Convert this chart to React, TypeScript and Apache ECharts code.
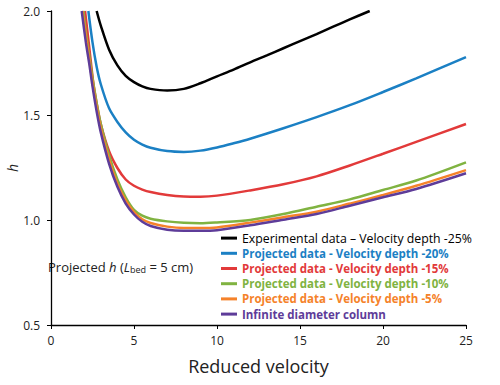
import React, { useEffect, useRef } from "react";
import * as echarts from "echarts";

const xTicks = [0, 5, 10, 15, 20, 25];
const yTicks = [0.5, 1.0, 1.5, 2.0];

const seriesNames = [
  "Experimental data – Velocity depth -25%",
  "Projected data - Velocity depth -20%",
  "Projected data - Velocity depth -15%",
  "Projected data - Velocity depth -10%",
  "Projected data - Velocity depth -5%",
  "Infinite diameter column",
];
const seriesColors = ["#000000", "#1b80c4", "#e23a3a", "#80b341", "#f5822a", "#5e3c99"];

const blackV = [2.75, 3.0, 3.5, 4.0, 4.5, 5.0, 5.5, 6.0, 7.0, 8.0, 9.0, 10, 11, 12, 13, 14, 15, 16, 17, 18, 19.2];
const blackH = [2.0, 1.93, 1.815, 1.74, 1.69, 1.66, 1.64, 1.628, 1.62, 1.628, 1.655, 1.688, 1.72, 1.755, 1.788, 1.822, 1.856, 1.89, 1.925, 1.96, 2.0];

const blueV = [2.25, 2.5, 2.75, 3.0, 3.5, 4.0, 4.5, 5.0, 5.5, 6.0, 7.0, 8.0, 9, 10, 11, 12, 14, 16, 18, 20, 22, 25];
const blueH = [2.0, 1.85, 1.734, 1.65, 1.535, 1.47, 1.42, 1.385, 1.362, 1.347, 1.331, 1.327, 1.333, 1.348, 1.368, 1.39, 1.44, 1.493, 1.55, 1.613, 1.678, 1.78];

const redV = [2.05, 2.3, 2.55, 2.75, 3.0, 3.5, 4.0, 4.5, 5.0, 5.5, 6.0, 7.0, 8.0, 9.0, 10, 12, 14, 16, 18, 20, 22, 25];
const redH = [2.0, 1.83, 1.655, 1.56, 1.46, 1.33, 1.25, 1.195, 1.165, 1.147, 1.135, 1.121, 1.114, 1.113, 1.118, 1.143, 1.172, 1.21, 1.262, 1.318, 1.375, 1.46];

const greenV = [1.95, 2.1, 2.3, 2.5, 2.75, 3.0, 3.5, 4.0, 4.5, 5.0, 5.5, 6.0, 7.0, 8.0, 9.0, 10, 12, 14, 16, 18, 20, 22, 25];
const greenH = [2.0, 1.9, 1.79, 1.68, 1.56, 1.46, 1.31, 1.195, 1.11, 1.05, 1.022, 1.008, 0.995, 0.988, 0.986, 0.99, 1.002, 1.03, 1.065, 1.1, 1.145, 1.19, 1.277];

const orangeV = [1.9, 2.1, 2.3, 2.5, 2.75, 3.0, 3.5, 4.0, 4.5, 5.0, 5.5, 6.0, 7.0, 8.0, 9.0, 10, 12, 14, 16, 18, 20, 22, 25];
const orangeH = [2.0, 1.88, 1.77, 1.66, 1.54, 1.44, 1.29, 1.175, 1.095, 1.04, 1.005, 0.987, 0.97, 0.963, 0.963, 0.966, 0.989, 1.015, 1.041, 1.08, 1.121, 1.165, 1.24];

const purpleV = [1.85, 2.1, 2.3, 2.5, 2.75, 3.0, 3.5, 4.0, 4.5, 5.0, 5.5, 6.0, 7.0, 8.0, 9.0, 10, 12, 14, 16, 18, 20, 22, 25];
const purpleH = [2.0, 1.85, 1.75, 1.64, 1.52, 1.42, 1.27, 1.16, 1.08, 1.028, 0.993, 0.973, 0.955, 0.95, 0.95, 0.953, 0.976, 1.003, 1.03, 1.07, 1.11, 1.15, 1.225];

const allV = [blackV, blueV, redV, greenV, orangeV, purpleV];
const allH = [blackH, blueH, redH, greenH, orangeH, purpleH];

const FONT = "'Open Sans', 'Noto Sans', sans-serif";

export default function App() {
  const ref = useRef<HTMLDivElement>(null);
  useEffect(() => {
    if (!ref.current) return;
    const chart = echarts.init(ref.current, undefined, { renderer: "svg" });
    const series = seriesNames.map((name, i) => ({
      name,
      type: "line",
      data: allV[i].map((v, j) => [v, allH[i][j]]),
      smooth: 0.3,
      showSymbol: false,
      symbol: "none",
      lineStyle: { color: seriesColors[i], width: 2.5 },
      itemStyle: { color: seriesColors[i] },
      z: 2 + i,
    }));
    chart.setOption({
      animation: false,
      backgroundColor: "#ffffff",
      textStyle: { fontFamily: FONT },
      grid: { left: 51, right: 34, top: 11, bottom: 60, containLabel: false, outerBoundsMode: "none" },
      xAxis: {
        type: "value",
        min: xTicks[0],
        max: xTicks[xTicks.length - 1],
        interval: 5,
        name: "Reduced velocity",
        nameLocation: "middle",
        nameGap: 32,
        nameMoveOverlap: false,
        nameTextStyle: { fontSize: 18, color: "#222", fontFamily: FONT },
        axisLine: { show: true, lineStyle: { color: "#000", width: 1.3 } },
        axisTick: { show: true, length: 4, inside: false, lineStyle: { color: "#000" } },
        axisLabel: { fontSize: 12, color: "#222", margin: 9, fontFamily: FONT },
        splitLine: { show: false },
      },
      yAxis: {
        type: "value",
        min: yTicks[0],
        max: yTicks[yTicks.length - 1],
        interval: 0.5,
        name: "h",
        nameLocation: "middle",
        nameGap: 32,
        nameMoveOverlap: false,
        nameRotate: 90,
        nameTextStyle: { fontSize: 14, fontStyle: "italic", color: "#222", fontFamily: FONT },
        axisLine: { show: true, lineStyle: { color: "#000", width: 1.3 } },
        axisTick: { show: true, length: 4, inside: false, lineStyle: { color: "#000" } },
        axisLabel: {
          fontSize: 12,
          color: "#222",
          margin: 11,
          fontFamily: FONT,
          formatter: (v: number) => v.toFixed(1),
        },
        splitLine: { show: false },
      },
      legend: {
        orient: "vertical",
        left: 216,
        top: 227,
        itemGap: 3,
        itemWidth: 16,
        itemHeight: 3,
        icon: "rect",
        data: seriesNames.map((name, i) => ({
          name,
          itemStyle: { color: seriesColors[i] },
          textStyle: {
            color: seriesColors[i],
            fontWeight: i === 0 ? "normal" : "bold",
            fontSize: i === 0 ? 12.3 : 11.5,
            lineHeight: 12.2,
            fontFamily: FONT,
          },
        })),
        selectedMode: false,
      },
      graphic: [
        {
          type: "text",
          left: 48,
          top: 260,
          style: {
            text: "{n|Projected }{i|h}{n| (}{i|L}{s|bed}{n| = 5 cm)}",
            rich: {
              n: { fontSize: 13, fill: "#222", fontFamily: FONT },
              i: { fontSize: 13, fill: "#222", fontStyle: "italic", fontFamily: FONT },
              s: { fontSize: 9, fill: "#222", fontFamily: FONT, padding: [6, 0, 0, 0] },
            },
          },
        },
      ],
      series,
    });
    return () => chart.dispose();
  }, []);
  return (
    <div style={{ position: "absolute", left: 0, top: 0, width: 500, height: 385 }}>
      <div ref={ref} style={{ width: 500, height: 385 }} />
    </div>
  );
}
